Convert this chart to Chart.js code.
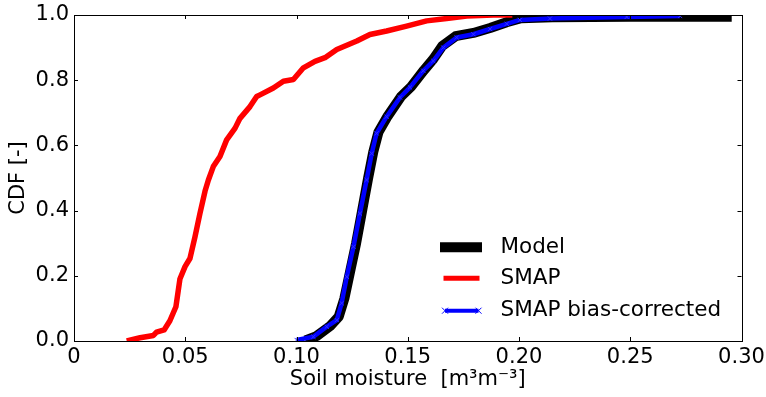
<!DOCTYPE html>
<html>
<head>
<meta charset="utf-8">
<script src="https://cdn.jsdelivr.net/npm/chart.js@4"></script>
<style>
  html, body { margin: 0; padding: 0; background: #fff; }
  canvas { display: block; }
</style>
</head>
<body>
<canvas id="myChart" width="766" height="397"></canvas>
<script>
// values
const modelX = [0.1040, 0.1090, 0.1150, 0.1190, 0.1215, 0.1240, 0.1268, 0.1295, 0.1322, 0.1345, 0.1368, 0.1410, 0.1470, 0.1515, 0.1572, 0.1615, 0.1655, 0.1715, 0.1795, 0.1870, 0.1945, 0.2010, 0.2150, 0.2500, 0.2956];
const modelY = [0.002, 0.015, 0.045, 0.075, 0.130, 0.210, 0.300, 0.400, 0.500, 0.580, 0.640, 0.690, 0.750, 0.780, 0.830, 0.865, 0.905, 0.935, 0.945, 0.960, 0.978, 0.990, 0.993, 0.995, 0.995];

const smapX = [0.0237, 0.0297, 0.0357, 0.0371, 0.0405, 0.0431, 0.0458, 0.0476, 0.0499, 0.0521, 0.0544, 0.0566, 0.0589, 0.0604, 0.0626, 0.0656, 0.0686, 0.0724, 0.0746, 0.0791, 0.0821, 0.0836, 0.0896, 0.0941, 0.0986, 0.1031, 0.1083, 0.1128, 0.1181, 0.1271, 0.1330, 0.1405, 0.1495, 0.1585, 0.1675, 0.1765, 0.1885, 0.1970];
const smapY = [0.000, 0.010, 0.017, 0.027, 0.034, 0.062, 0.105, 0.190, 0.228, 0.253, 0.320, 0.391, 0.460, 0.494, 0.535, 0.566, 0.617, 0.653, 0.683, 0.719, 0.750, 0.755, 0.776, 0.797, 0.802, 0.838, 0.858, 0.869, 0.894, 0.920, 0.940, 0.951, 0.966, 0.982, 0.989, 0.997, 1.000, 1.000];

const corrX = [0.1001, 0.1076, 0.1136, 0.1181, 0.1203, 0.1226, 0.1256, 0.1285, 0.1315, 0.1338, 0.1360, 0.1405, 0.1465, 0.1510, 0.1570, 0.1615, 0.1660, 0.1720, 0.1795, 0.1870, 0.1945, 0.2004, 0.2139, 0.2484, 0.2724];
const corrY = [0.003, 0.013, 0.044, 0.064, 0.116, 0.197, 0.289, 0.391, 0.494, 0.575, 0.637, 0.688, 0.747, 0.778, 0.829, 0.859, 0.900, 0.931, 0.941, 0.957, 0.973, 0.985, 0.989, 0.994, 0.997];

const xTickVals = [0, 0.05, 0.10, 0.15, 0.20, 0.25, 0.30];
const xTickLabels = ['0', '0.05', '0.10', '0.15', '0.20', '0.25', '0.30'];
const yTickVals = [0, 0.2, 0.4, 0.6, 0.8, 1.0];
const yTickLabels = ['0.0', '0.2', '0.4', '0.6', '0.8', '1.0'];

const seriesNames = ['Model', 'SMAP', 'SMAP bias-corrected'];

const FONT = 'DejaVu Sans';

function pts(xs, ys) {
    return xs.map((x, i) => ({ x: x, y: ys[i] }));
}

// matplotlib-like frame with ticks pointing inward on all four sides
const frameTicks = {
    id: 'frameTicks',
    afterDatasetsDraw(chart) {
        const { ctx, chartArea: a, scales: { x, y } } = chart;
        ctx.save();
        ctx.strokeStyle = '#000';
        ctx.lineWidth = 1;
        ctx.beginPath();
        xTickVals.forEach(v => {
            const px = Math.round(x.getPixelForValue(v)) + 0.5;
            ctx.moveTo(px, a.bottom); ctx.lineTo(px, a.bottom - 4);
            ctx.moveTo(px, a.top); ctx.lineTo(px, a.top + 4);
        });
        yTickVals.forEach(v => {
            const py = Math.round(y.getPixelForValue(v)) + 0.5;
            ctx.moveTo(a.left, py); ctx.lineTo(a.left + 4, py);
            ctx.moveTo(a.right, py); ctx.lineTo(a.right - 4, py);
        });
        ctx.stroke();
        ctx.strokeRect(Math.round(a.left) + 0.5, Math.round(a.top) + 0.5,
            Math.round(a.right - a.left), Math.round(a.bottom - a.top));
        ctx.restore();
    }
};

// legend in the lower right, drawn like the matplotlib one
const cornerLegend = {
    id: 'cornerLegend',
    afterDraw(chart) {
        const ctx = chart.ctx;
        const ds = chart.data.datasets;
        const rows = [247.3, 278.3, 310.7];
        ctx.save();
        ds.forEach((d, i) => {
            const yy = rows[i];
            ctx.strokeStyle = d.borderColor;
            ctx.lineWidth = i === 0 ? 10 : (i === 1 ? 5 : 4);
            ctx.lineCap = 'butt';
            ctx.beginPath();
            if (i === 2) { ctx.moveTo(445, yy); ctx.lineTo(478.5, yy); }
            else if (i === 1) { ctx.moveTo(443.5, yy); ctx.lineTo(479.5, yy); }
            else { ctx.moveTo(440, yy); ctx.lineTo(482, yy); }
            ctx.stroke();
            if (i === 2) {
                ctx.lineWidth = 1;
                [445, 478.5].forEach(mx => {
                    ctx.beginPath();
                    ctx.moveTo(mx - 3, yy - 3); ctx.lineTo(mx + 3, yy + 3);
                    ctx.moveTo(mx - 3, yy + 3); ctx.lineTo(mx + 3, yy - 3);
                    ctx.stroke();
                });
            }
            ctx.fillStyle = '#000';
            ctx.font = '21.5px "' + FONT + '"';
            ctx.textAlign = 'left';
            ctx.textBaseline = 'middle';
            ctx.fillText(seriesNames[i], 500.5, yy);
        });
        ctx.restore();
    }
};

const ctx = document.getElementById('myChart').getContext('2d');

const chart = new Chart(ctx, {
    type: 'line',
    data: {
        datasets: [{
            label: seriesNames[0],
            data: pts(modelX, modelY),
            borderColor: '#000000',
            borderWidth: 10,
            pointRadius: 0,
            borderJoinStyle: 'round',
            clip: 0,
            order: 3
        }, {
            label: seriesNames[1],
            data: pts(smapX, smapY),
            borderColor: '#ff0000',
            borderWidth: 5.5,
            pointRadius: 0,
            borderJoinStyle: 'round',
            clip: 0,
            order: 2
        }, {
            label: seriesNames[2],
            data: pts(corrX, corrY),
            borderColor: '#0000ff',
            borderWidth: 4.5,
            pointStyle: 'crossRot',
            pointRadius: 3,
            pointBorderWidth: 1,
            pointBorderColor: '#3333ff',
            borderJoinStyle: 'round',
            clip: 0,
            order: 1
        }]
    },
    options: {
        responsive: false,
        animation: false,
        events: [],
        layout: { padding: { top: 15, right: 24.5, left: 0, bottom: 0 } },
        plugins: {
            legend: { display: false },
            tooltip: { enabled: false }
        },
        scales: {
            x: {
                type: 'linear',
                min: 0,
                max: 0.3,
                afterBuildTicks: s => { s.ticks = xTickVals.map(v => ({ value: v })); },
                afterFit: s => { s.height = 56; s.paddingLeft = 0; s.paddingRight = 0; },
                grid: { display: false, drawTicks: false },
                border: { display: false },
                ticks: {
                    autoSkip: false,
                    maxRotation: 0,
                    padding: 4,
                    color: '#000',
                    font: { family: FONT, size: 21 },
                    callback: (v, i) => xTickLabels[i]
                },
                title: {
                    display: true,
                    text: 'Soil moisture  [m\u00b3m\u207b\u00b3]',
                    color: '#000',
                    font: { family: FONT, size: 21 },
                    padding: { top: 0, bottom: 4.5 }
                }
            },
            y: {
                type: 'linear',
                min: 0,
                max: 1,
                afterBuildTicks: s => { s.ticks = yTickVals.map(v => ({ value: v })); },
                afterFit: s => { s.width = 74; s.paddingTop = 0; s.paddingBottom = 0; },
                grid: { display: false, drawTicks: false },
                border: { display: false },
                ticks: {
                    autoSkip: false,
                    padding: 5,
                    color: '#000',
                    font: { family: FONT, size: 21 },
                    callback: (v, i) => yTickLabels[i]
                },
                title: {
                    display: true,
                    text: 'CDF [-]',
                    color: '#000',
                    font: { family: FONT, size: 21 },
                    padding: { top: 6, bottom: 0 }
                }
            }
        }
    },
    plugins: [frameTicks, cornerLegend]
});
</script>
</body>
</html>
